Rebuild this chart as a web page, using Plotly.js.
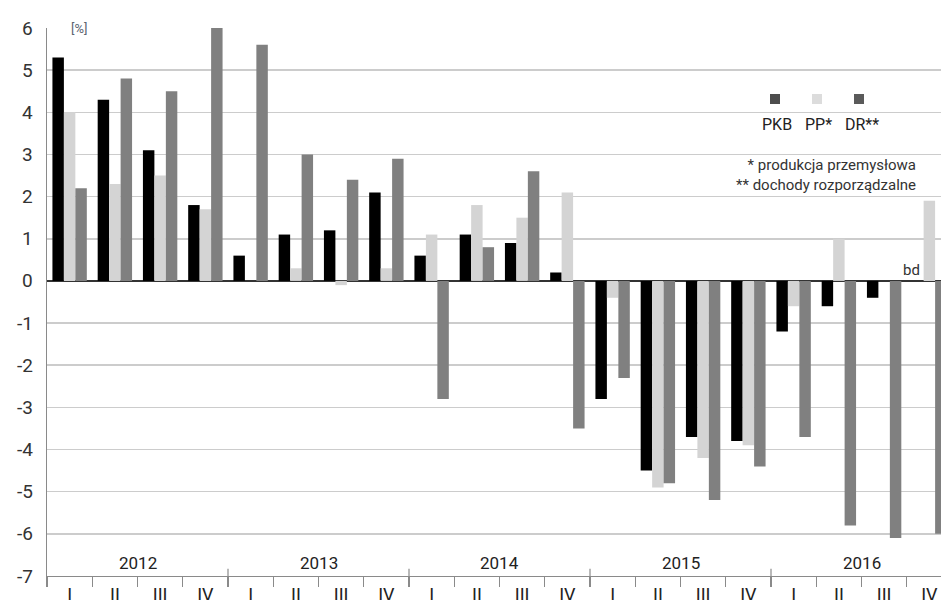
<!DOCTYPE html>
<html>
<head>
<meta charset="utf-8">
<script src="https://cdn.plot.ly/plotly-3.0.1.min.js"></script>
<style>html,body{margin:0;padding:0;background:#fff;}#chart{width:941px;height:600px;}</style>
</head>
<body>
<div id="chart"></div>
<script>
// ---- data ----
var years = ['2012', '2013', '2014', '2015', '2016'];
var quarters = ['I', 'II', 'III', 'IV'];
var seriesNames = ['PKB', 'PP*', 'DR**'];
var pkb = [5.3, 4.3, 3.1, 1.8, 0.6, 1.1, 1.2, 2.1, 0.6, 1.1, 0.9, 0.2, -2.8, -4.5, -3.7, -3.8, -1.2, -0.6, -0.4, null];
var pp  = [4.0, 2.3, 2.5, 1.7, 0.0, 0.3, -0.1, 0.3, 1.1, 1.8, 1.5, 2.1, -0.4, -4.9, -4.2, -3.9, -0.6, 1.0, null, 1.9];
var dr  = [2.2, 4.8, 4.5, 6.0, 5.6, 3.0, 2.4, 2.9, -2.8, 0.8, 2.6, -3.5, -2.3, -4.8, -5.2, -4.4, -3.7, -5.8, -6.1, -6.0];
var yTickVals = [-7, -6, -5, -4, -3, -2, -1, 0, 1, 2, 3, 4, 5, 6];
var yTickText = ['-7', '-6', '-5', '-4', '-3', '-2', '-1', '0', '1', '2', '3', '4', '5', '6'];
var unitLabel = '[%]';
var noDataLabel = 'bd';
var footnotes = ['* produkcja przemysłowa', '** dochody rozporządzalne'];

// ---- derived ----
var xLabels = [];
years.forEach(function () { quarters.forEach(function (q) { xLabels.push(q); }); });
var xIdx = xLabels.map(function (_, i) { return i; });

var colors = ['#000000', '#d4d4d4', '#808080'];
var legendColors = ['#4d4d4d', '#dcdcdc', '#5a5a5a'];
var vals = [pkb, pp, dr];

var traces = vals.map(function (v, k) {
  return {
    type: 'bar', x: xIdx, y: v, name: seriesNames[k],
    marker: { color: colors[k], line: { width: 0 } },
    hoverinfo: 'skip'
  };
});

// layout geometry
var W = 941, H = 600, L = 47, R = 0, T = 28, B = 24;
function px(x) { return (x - L) / (W - L - R); }
function py(y) { return (H - B - y) / (H - T - B); }

var shapes = [];
var annotations = [];

// y tick labels (hyphen minus, placed close to the axis)
yTickVals.forEach(function (v, i) {
  annotations.push({ x: px(35), y: v, xref: 'paper', yref: 'y', xanchor: 'right', yanchor: 'middle',
    text: yTickText[i], showarrow: false, font: { family: 'Roboto, sans-serif', size: 19, color: '#333' } });
});
// year separators crossing the axis
for (var yi = 1; yi < years.length; yi++) {
  var xb = yi * quarters.length - 0.5;
  shapes.push({ type: 'line', xref: 'x', yref: 'y', x0: xb, x1: xb, y0: -7, y1: -6.83,
    line: { color: '#8a8a8a', width: 1.2 } });
}
// year labels
years.forEach(function (yr, i) {
  annotations.push({ x: i * quarters.length + (quarters.length - 1) / 2, y: -6.68, xref: 'x', yref: 'y',
    xanchor: 'center', yanchor: 'middle',
    text: yr, showarrow: false, font: { family: 'Roboto, sans-serif', size: 17, color: '#222' } });
});
// unit label
annotations.push({ x: px(79), y: py(28), xref: 'paper', yref: 'paper', xanchor: 'center', yanchor: 'middle',
  text: unitLabel, showarrow: false,
  bgcolor: '#ffffff', borderpad: 3, font: { family: 'Roboto, sans-serif', size: 13, color: '#5a6470' } });
// no data label
annotations.push({ x: 19, y: 0, xref: 'x', yref: 'y', xshift: -18, xanchor: 'center', yanchor: 'bottom', yshift: 0,
  text: noDataLabel, showarrow: false, font: { family: 'Roboto, sans-serif', size: 15, color: '#333' } });
// custom legend
var legX = [775, 817, 859];
var legTX = [777, 818, 862];
seriesNames.forEach(function (n, k) {
  shapes.push({ type: 'rect', xref: 'paper', yref: 'paper',
    x0: px(legX[k] - 5), x1: px(legX[k] + 5), y0: py(104), y1: py(94),
    fillcolor: legendColors[k], line: { width: 0 } });
  annotations.push({ x: px(legTX[k]), y: py(125), xref: 'paper', yref: 'paper', xanchor: 'center', yanchor: 'middle',
    text: n, showarrow: false,
    bgcolor: '#ffffff', borderpad: 1,
    font: { family: 'Roboto, sans-serif', size: 16, color: '#222' } });
});
annotations.push({ x: px(917), y: py(175), xref: 'paper', yref: 'paper', xanchor: 'right', yanchor: 'middle', align: 'right',
  text: footnotes.join('<br>'), showarrow: false, bgcolor: '#ffffff', borderpad: 0,
  font: { family: 'Roboto, sans-serif', size: 15, color: '#333' } });

var pxPerUnit = 45.25;
var layout = {
  width: W, height: H,
  margin: { l: L, r: R, t: T, b: B, pad: 0 },
  paper_bgcolor: '#ffffff', plot_bgcolor: '#ffffff',
  showlegend: false,
  barmode: 'group', bargap: 0.24, bargroupgap: 0,
  font: { family: 'Roboto, sans-serif', color: '#333' },
  xaxis: {
    range: [-0.5, -0.5 + (W - L - R) / pxPerUnit],
    tickmode: 'array', tickvals: xIdx, ticktext: xLabels, ticks: '',
    tickfont: { size: 18, color: '#222' },
    showgrid: false, zeroline: false,
    showline: true, linecolor: '#8a8a8a', linewidth: 1.2,
    ticklabelstandoff: 2,
    minor: { tickmode: 'linear', tick0: 0.5, dtick: 1, ticks: 'outside', ticklen: 10,
      tickcolor: '#8a8a8a', tickwidth: 1.2, showgrid: false },
    fixedrange: true
  },
  yaxis: {
    range: [-7, 6],
    tickmode: 'array', tickvals: yTickVals, ticks: '',
    showticklabels: false,
    showgrid: true, gridcolor: '#cccccc', gridwidth: 1.5,
    zeroline: true, zerolinecolor: '#333333', zerolinewidth: 1.5,
    showline: true, linecolor: '#8a8a8a', linewidth: 1.2,
    fixedrange: true
  },
  shapes: shapes,
  annotations: annotations
};

Plotly.newPlot('chart', traces, layout, { displayModeBar: false, staticPlot: true });
</script>
</body>
</html>
